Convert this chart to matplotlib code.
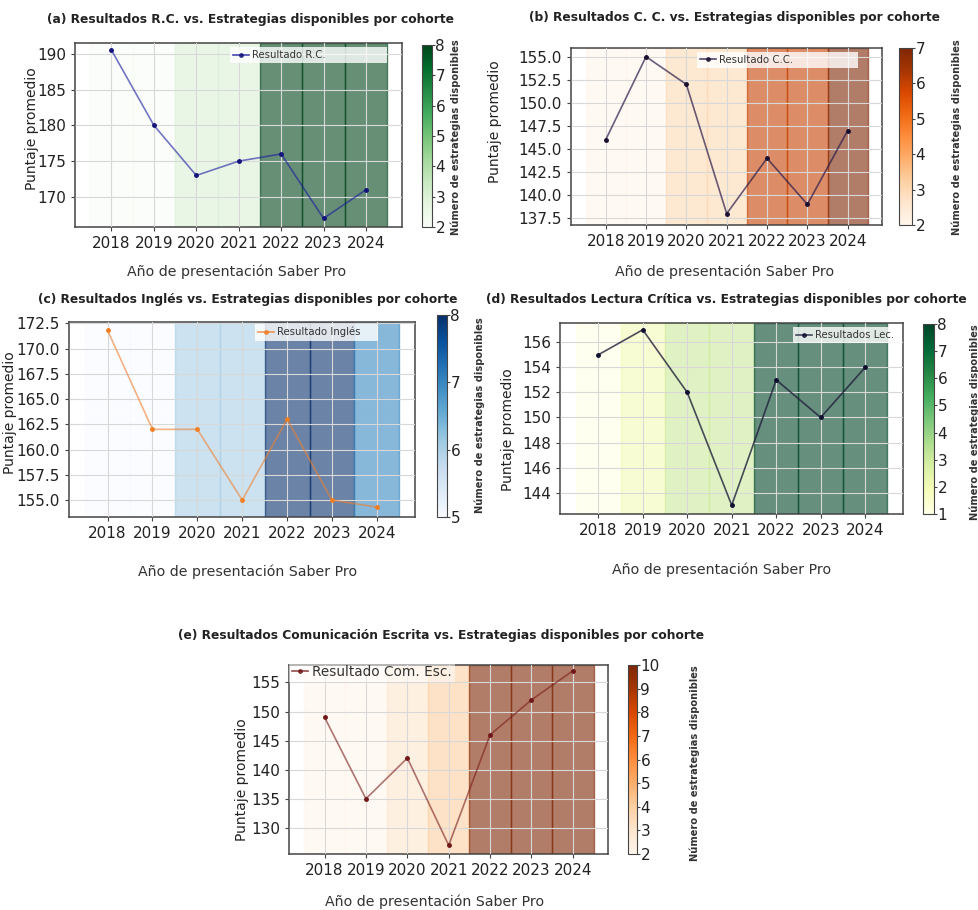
import numpy as np
import matplotlib
matplotlib.use("Agg")
import matplotlib.pyplot as plt
from matplotlib.colors import Normalize
from matplotlib.cm import ScalarMappable

plt.rcParams['font.family'] = ['DejaVu Sans']

# Data
years = [2018, 2019, 2020, 2021, 2022, 2023, 2024]

rc_scores = [190.5, 180, 173, 175, 176, 167, 171]
rc_strategies = [2, 2, 3, 3, 8, 8, 8]

cc_scores = [146, 155, 152, 138, 144, 139, 147]
cc_strategies = [2, 2, 3, 3, 6, 6, 7]

ing_scores = [171.8, 162, 162, 155, 163, 155, 154.3]
ing_strategies = [5, 5, 6, 6, 8, 8, 7]

lec_scores = [155, 157, 152, 143, 153, 150, 154]
lec_strategies = [1, 2, 3, 3, 8, 8, 8]

com_scores = [149, 135, 142, 127, 146, 152, 157]
com_strategies = [2, 2, 3, 4, 10, 10, 10]

W, H = 979, 910
fig = plt.figure(figsize=(W / 100, H / 100), dpi=100)


def px_axes(l, r, t, b):
    return fig.add_axes([l / W, 1 - b / H, (r - l) / W, (b - t) / H])


def panel(box, cbox, title, tpos, scores, strat, cmap_name, crange, label,
          line_c, line_a, mark_c, ylim, yticks, yfmt, xlpos, ylpos, cblpos,
          legbox=None, legsize=7.3):
    l, r, t, b = box
    ax = px_axes(l, r, t, b)
    cmap = plt.get_cmap(cmap_name)
    norm = Normalize(*crange)

    # coloured band per cohort
    for yr, s in zip(years, strat):
        ax.axvspan(yr - 0.5, yr + 0.5, color=cmap(norm(s)), alpha=0.6,
                   lw=1, zorder=1.0)

    ax.plot(years, scores, '-', color=line_c, lw=1.2, alpha=line_a, zorder=3)
    ax.plot(years, scores, '.', color=mark_c, ms=5, zorder=3.1)
    h = ax.plot([], [], '.-', color=line_c, mfc=mark_c, mec=mark_c, lw=1.2,
                ms=5, alpha=0.8)[0]

    ax.set_xlim(2017.14, 2024.85)
    ax.set_ylim(*ylim)
    ax.set_xticks(years)
    ax.set_yticks(yticks)
    ax.set_yticklabels([yfmt % v for v in yticks])
    ax.tick_params(labelsize=11, length=3, color='#444', labelcolor='#222')
    ax.set_axisbelow(False)
    ax.grid(True, color='#d8d8d8', lw=0.8)
    for sp in ax.spines.values():
        sp.set_color('#444')
        sp.set_linewidth(1.1)

    if legbox is not None:
        leg = ax.legend([h], [label], loc='upper left', bbox_to_anchor=legbox,
                        mode='expand', borderaxespad=0, fontsize=legsize,
                        fancybox=False, framealpha=0.8, handlelength=1.6,
                        handletextpad=0.3, borderpad=0.3)
    else:
        leg = ax.legend([h], [label], loc='upper left', bbox_to_anchor=(0.0, 1.015),
                        borderaxespad=0, fontsize=legsize, fancybox=False,
                        framealpha=0.5, handlelength=1.2, handletextpad=0.3,
                        borderpad=0.2)
    leg.set_zorder(5)
    leg.get_frame().set_edgecolor('none')
    for txt in leg.get_texts():
        txt.set_color('#333')

    cl, cr, ct, cb = cbox
    cax = px_axes(cl, cr, ct, cb)
    sm = ScalarMappable(norm=norm, cmap=cmap)
    cbar = fig.colorbar(sm, cax=cax)
    cbar.set_ticks(np.arange(crange[0], crange[1] + 1))
    cbar.ax.tick_params(labelsize=11, length=2, pad=0.5, color='#444',
                        labelcolor='#222')
    cbar.outline.set_edgecolor('#444')

    fig.text(tpos[0] / W, 1 - tpos[1] / H, title, ha='center', va='center',
             fontsize=8.8, fontweight='bold', color='#222')
    fig.text(xlpos[0] / W, 1 - xlpos[1] / H, 'Año de presentación Saber Pro',
             ha='center', va='center', fontsize=10.2, color='#333')
    fig.text(ylpos[0] / W, 1 - ylpos[1] / H, 'Puntaje promedio', ha='center',
             va='center', rotation=90, fontsize=10, color='#222')
    fig.text(cblpos[0] / W, 1 - cblpos[1] / H, 'Número de estrategias disponibles',
             ha='center', va='center', rotation=90, fontsize=7.1,
             fontweight='bold', color='#333')
    return ax


panel((75, 402, 43, 227), (422, 432, 45, 227),
      '(a) Resultados R.C. vs. Estrategias disponibles por cohorte', (251, 19),
      rc_scores, rc_strategies, 'Greens', (2, 8), 'Resultado R.C.',
      '#1a1aa0', 0.6, '#14147a', (165.8, 191.5), [170, 175, 180, 185, 190], '%d',
      (237, 272), (32, 129), (456, 137), legbox=(0.474, 0.87, 0.48, 0.108))

panel((571, 882, 48, 225), (899, 912, 48, 225),
      '(b) Resultados C. C. vs. Estrategias disponibles por cohorte', (735, 18),
      cc_scores, cc_strategies, 'Oranges', (2, 7), 'Resultado C.C.',
      '#2a1a4a', 0.7, '#1a1030', (136.77, 155.94),
      [137.5, 140, 142.5, 145, 147.5, 150, 152.5, 155], '%.1f',
      (725, 272), (495, 122), (957, 137), legbox=(0.405, 0.893, 0.518, 0.085))

panel((69, 415, 322, 517), (437, 447, 315, 517),
      '(c) Resultados Inglés vs. Estrategias disponibles por cohorte', (248, 300),
      ing_scores, ing_strategies, 'Blues', (5, 8), 'Resultado Inglés',
      '#f08030', 0.6, '#f07f22', (153.32, 172.63),
      [155, 157.5, 160, 162.5, 165, 167.5, 170, 172.5], '%.1f',
      (248, 572), (10, 413), (480, 415), legbox=(0.538, 0.882, 0.355, 0.108))

panel((560, 903, 323, 514), (923, 934, 324, 514),
      '(d) Resultados Lectura Crítica vs. Estrategias disponibles por cohorte', (726, 299),
      lec_scores, lec_strategies, 'YlGn', (1, 8), 'Resultados Lec.',
      '#20203a', 0.8, '#101030', (142.3, 157.54), [144, 146, 148, 150, 152, 154, 156], '%d',
      (722, 570), (508, 430), (975, 422), legbox=(0.679, 0.911, 0.318, 0.068))

panel((289, 608, 665, 854), (628, 637, 665, 854),
      '(e) Resultados Comunicación Escrita vs. Estrategias disponibles por cohorte', (441, 636),
      com_scores, com_strategies, 'Oranges', (2, 10), 'Resultado Com. Esc.',
      '#7a1c1c', 0.6, '#701818', (125.5, 158), [130, 135, 140, 145, 150, 155], '%d',
      (435, 902), (242, 780), (695, 763), legsize=9.8)

fig.savefig('out.png', dpi=100)
